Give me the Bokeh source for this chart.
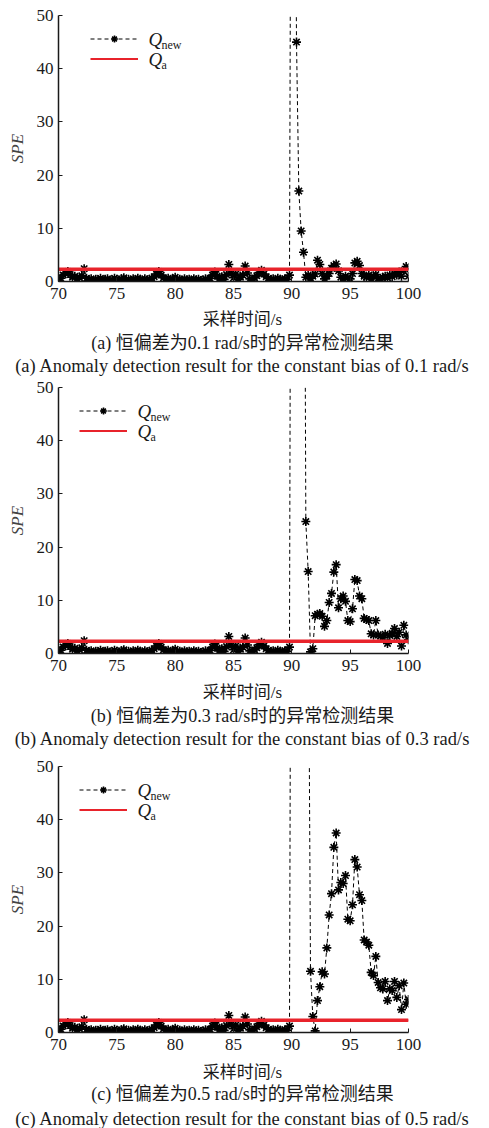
from bokeh.plotting import figure
from bokeh.models import Label, Legend, LegendItem, Range1d, FixedTicker
from bokeh.layouts import column
from bokeh.embed import file_html
from bokeh.resources import INLINE

# Sampling instants (s), 0.2 s apart from 70 s to 100 s
time_s = [round(70 + 0.2 * i, 1) for i in range(151)]

# SPE before the fault is injected (70.0 s .. 89.8 s), shared by all three runs
spe_normal = [
    0.1, 0.6, 1.2, 1.6, 1.9, 1.3, 0.8, 1.0, 0.5, 0.7,
    1.1, 2.4, 0.6, 0.3, 0.5, 0.2, 0.4, 0.3, 0.6, 0.2,
    0.4, 0.5, 0.2, 0.3, 0.6, 0.4, 0.2, 0.5, 0.7, 0.3,
    0.4, 0.2, 0.5, 0.3, 0.6, 0.4, 0.2, 0.5, 0.3, 0.4,
    0.6, 0.9, 1.4, 1.9, 1.2, 0.7, 0.4, 0.6, 0.3, 0.5,
    0.8, 0.3, 0.4, 0.2, 0.5, 0.3, 0.4, 0.2, 0.5, 0.3,
    0.4, 0.2, 0.3, 0.5, 0.3, 0.6, 1.2, 1.8, 1.0, 0.5,
    0.9, 0.4, 1.3, 3.2, 1.5, 0.7, 1.4, 0.4, 0.8, 1.2,
    2.9, 1.6, 0.5, 0.3, 0.7, 1.1, 1.7, 2.1, 1.4, 0.9,
    0.6, 0.3, 0.5, 0.2, 0.6, 0.4, 0.3, 0.5, 0.4, 1.2,
]

# SPE after the fault (90.0 s .. 100.0 s) for each constant bias
spe_bias_01 = [
    150, 120, 45, 17, 9.5, 5.5, 0.8, 1.2, 0.6, 1.0,
    1.4, 4.0, 3.2, 1.5, 0.5, 1.0, 1.5, 2.5, 3.0, 3.3,
    2.0, 0.8, 0.6, 1.0, 0.7, 0.5, 1.5, 3.5, 3.8, 3.0,
    1.5, 1.0, 0.8, 1.2, 0.5, 1.0, 1.3, 0.6, 0.4, 0.8,
    1.0, 0.7, 1.2, 0.9, 1.5, 1.2, 1.8, 1.0, 2.0, 2.8,
    1.0,
]
spe_bias_03 = [
    180, 240, 260, 230, 190, 140, 24.8, 15.4, 0.3, 0.9,
    7.1, 7.4, 7.5, 7.0, 5.1, 6.2, 9.6, 11.3, 15.3, 16.7,
    8.6, 10.3, 10.8, 9.8, 6.2, 6.0, 8.4, 13.9, 13.7, 10.8,
    10.3, 6.6, 6.4, 6.2, 3.7, 3.5, 6.2, 3.5, 3.3, 3.0,
    3.6, 1.9, 3.4, 3.8, 4.7, 3.2, 4.0, 1.4, 5.3, 3.5,
    2.6,
]
spe_bias_05 = [
    160, 260, 300, 280, 250, 200, 150, 90, 11.5, 3.0,
    0.3, 6.0, 8.6, 11.4, 11.0, 15.9, 22.1, 26.1, 34.8, 37.5,
    26.8, 28.2, 28.0, 29.5, 21.3, 21.0, 24.0, 32.5, 31.1, 25.9,
    24.8, 17.4, 17.0, 16.4, 11.3, 10.7, 14.3, 9.4, 8.4, 8.2,
    9.6, 6.0, 8.2, 7.9, 9.6, 6.6, 8.8, 4.3, 9.3, 5.3,
    6.2,
]

# Detection threshold
q_a = 2.3

x_ticks = [70, 75, 80, 85, 90, 95, 100]
y_ticks = [0, 10, 20, 30, 40, 50]

captions_cn = [
    "(a) 恒偏差为0.1 rad/s时的异常检测结果",
    "(b) 恒偏差为0.3 rad/s时的异常检测结果",
    "(c) 恒偏差为0.5 rad/s时的异常检测结果",
]
captions_en = [
    "(a) Anomaly detection result for the constant bias of 0.1 rad/s",
    "(b) Anomaly detection result for the constant bias of 0.3 rad/s",
    "(c) Anomaly detection result for the constant bias of 0.5 rad/s",
]
x_title = "采样时间/s"
y_title = "SPE"

SERIF = "'Liberation Serif', 'Noto Sans CJK SC'"
RED = "#e8232b"
INK = "#1a1a1a"


def make_plot(spe, top, legend_dx):
    p = figure(
        width=489, height=top + 266 + 24, output_backend="svg", toolbar_location=None,
        min_border_left=58, min_border_right=81,
        min_border_top=top, min_border_bottom=24,
        x_range=Range1d(70, 100), y_range=Range1d(0, 50),
        frame_align=False,
    )
    p.outline_line_color = None
    p.grid.visible = False

    line_r = p.line(time_s, spe, line_color="black", line_dash="4 3", line_width=1)
    star_r = p.scatter(time_s, spe, marker="asterisk", size=9,
                       line_color="black", line_width=1.6)
    # thin threshold stroke (used as the legend key), covered by the bold one
    red_key = p.line(time_s, [q_a] * len(time_s), line_color=RED, line_width=1.8)
    p.line(time_s, [q_a] * len(time_s), line_color=RED, line_width=3.5)

    for ax in (p.xaxis[0], p.yaxis[0]):
        ax.axis_line_color = INK
        ax.axis_line_width = 1.5
        ax.major_tick_in = 4
        ax.major_tick_out = 0
        ax.minor_tick_line_color = None
        ax.major_tick_line_color = INK
        ax.major_label_text_font = SERIF
        ax.major_label_text_font_size = "17px"
        ax.major_label_text_color = INK
    p.xaxis.ticker = FixedTicker(ticks=x_ticks)
    p.yaxis.ticker = FixedTicker(ticks=y_ticks)
    p.xaxis.major_label_standoff = 6
    p.yaxis.major_label_standoff = 5

    p.yaxis.axis_label = y_title
    p.yaxis.axis_label_text_font = SERIF
    p.yaxis.axis_label_text_font_style = "italic"
    p.yaxis.axis_label_text_font_size = "17px"
    p.yaxis.axis_label_standoff = 7

    legend = Legend(
        items=[LegendItem(label=" ", renderers=[line_r, star_r]),
               LegendItem(label=" ", renderers=[red_key])],
        location=(legend_dx, 266 - 15 - 37),
        glyph_width=48, glyph_height=17, spacing=3, padding=0, margin=0,
        label_standoff=0, label_text_font_size="8px",
        border_line_color=None, background_fill_alpha=0,
    )
    p.add_layout(legend)

    # Legend key names: italic Q with upright subscripts
    qx = legend_dx + 58
    for dy, sub in ((-24, "new"), (-44, "a")):
        p.add_layout(Label(x=qx, y=266 + dy, x_units="screen", y_units="screen",
                           text="Q", text_font=SERIF, text_font_style="italic",
                           text_font_size="19px", text_baseline="middle",
                           text_color=INK))
        p.add_layout(Label(x=qx + 13, y=266 + dy - 5, x_units="screen", y_units="screen",
                           text=sub, text_font=SERIF, text_font_size="12px",
                           text_baseline="middle", text_color=INK))
    return p


def make_caption(cap_cn, cap_en, height, rows_y):
    """Axis title and the two-line caption, centred on the page width."""
    c = figure(width=489, height=height, output_backend="svg", toolbar_location=None,
               x_axis_type=None, y_axis_type=None,
               min_border_left=0, min_border_right=0,
               min_border_top=0, min_border_bottom=0,
               x_range=Range1d(0, 1), y_range=Range1d(0, 1),
               frame_align=False)
    c.outline_line_color = None
    c.grid.visible = False
    for y, txt, fs in zip(rows_y, (x_title, cap_cn, cap_en), ("17px", "18px", "18.5px")):
        c.add_layout(Label(x=242, y=y, x_units="screen", y_units="screen",
                           text=txt, text_font=SERIF, text_font_size=fs,
                           text_align="center", text_baseline="middle",
                           text_color=INK))
    return c


blocks = [
    make_plot(spe_normal + spe_bias_01, 15, 32),
    make_caption(captions_cn[0], captions_en[0], 71, (57, 34, 11)),
    make_plot(spe_normal + spe_bias_03, 11, 21),
    make_caption(captions_cn[1], captions_en[1], 76, (61, 38, 15)),
    make_plot(spe_normal + spe_bias_05, 13, 21),
    make_caption(captions_cn[2], captions_en[2], 72, (56, 35, 10)),
]

page = column(*blocks, spacing=0)
open("out.html", "w").write(file_html(page, INLINE))
